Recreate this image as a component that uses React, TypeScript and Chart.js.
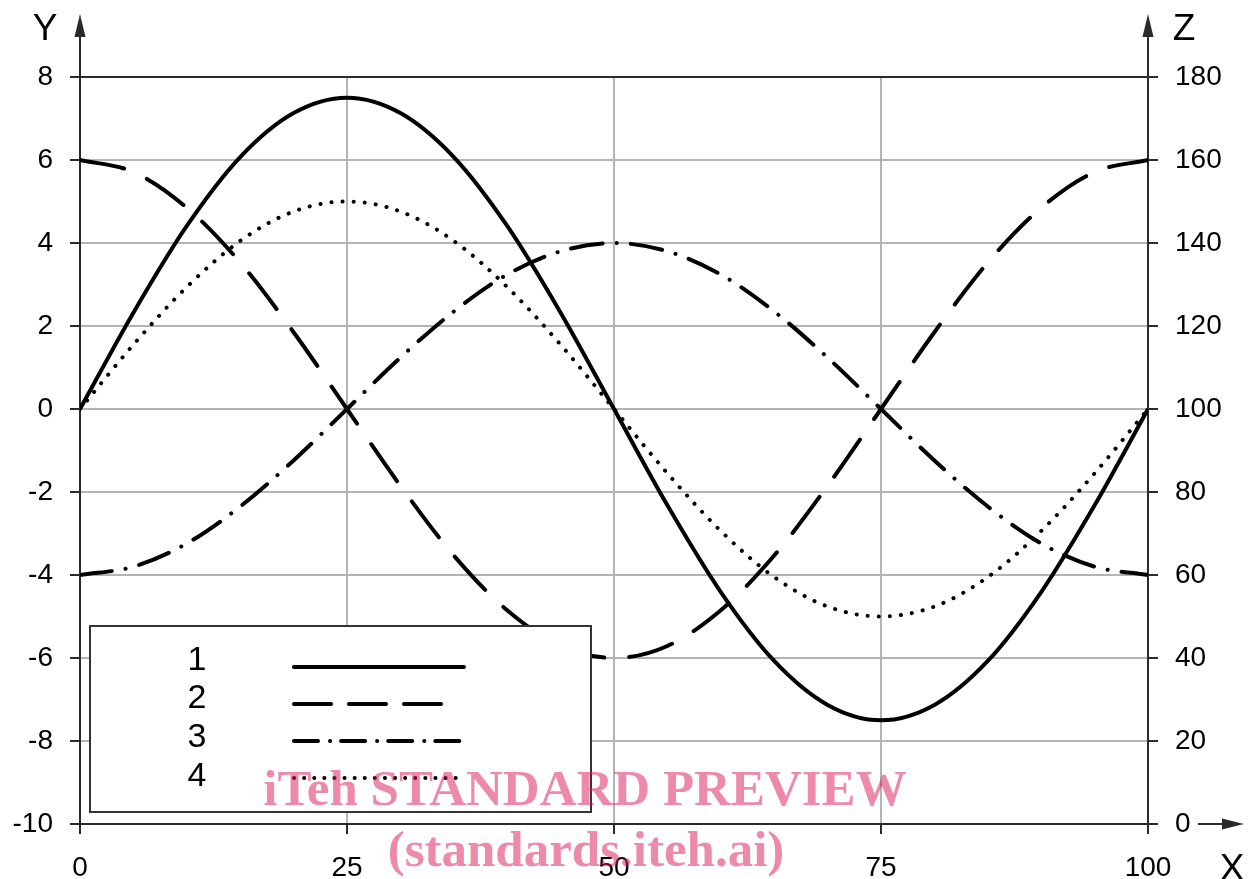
import React, { useEffect, useRef } from "react";
import { Chart, registerables } from "chart.js";

Chart.register(...registerables);

// ---------- data ----------
const xValues = [0, 5, 10, 15, 20, 25, 30, 35, 40, 45, 50, 55, 60, 65, 70, 75, 80, 85, 90, 95, 100];
const series1 = [0, 2.32, 4.41, 6.07, 7.13, 7.5, 7.13, 6.07, 4.41, 2.32, 0, -2.32, -4.41, -6.07, -7.13, -7.5, -7.13, -6.07, -4.41, -2.32, 0];
const series2 = [6, 5.71, 4.85, 3.53, 1.85, 0, -1.85, -3.53, -4.85, -5.71, -6, -5.71, -4.85, -3.53, -1.85, 0, 1.85, 3.53, 4.85, 5.71, 6];
const series3 = [-4, -3.8, -3.24, -2.35, -1.24, 0, 1.24, 2.35, 3.24, 3.8, 4, 3.8, 3.24, 2.35, 1.24, 0, -1.24, -2.35, -3.24, -3.8, -4];
const series4 = [0, 1.55, 2.94, 4.05, 4.76, 5, 4.76, 4.05, 2.94, 1.55, 0, -1.55, -2.94, -4.05, -4.76, -5, -4.76, -4.05, -2.94, -1.55, 0];
const seriesLabels = ["1", "2", "3", "4"];
const xRange = [0, 100];
const xStep = 25;
const yRange = [-10, 8];
const yStep = 2;
const zRange = [0, 180];
const zStep = 20;
const axisTitles = { y: "Y", z: "Z", x: "X" };
const watermarkLines = ["iTeh STANDARD PREVIEW", "(standards.iteh.ai)"];

// ---------- styles ----------
const DARK = "#2a2a2a";
const GRID = "#b4b4b4";
const TICK_FONT = { family: "'Liberation Sans', Arial, sans-serif", size: 28 };
const dashes: number[][] = [[], [45, 25], [32, 14, 0.1, 14], [0.1, 11]];
const legendDashes: number[][] = [[], [37, 18], [24, 12, 0.1, 11], [0.1, 10]];
const legendLineEnds = [170, 147, 170, 166];
const allSeries = [series1, series2, series3, series4];

const decorPlugin = {
  id: "decor",
  afterDatasetsDraw(chart: any) {
    const ctx = chart.ctx;
    const ca = chart.chartArea;
    // legend box
    const bx = ca.left + 10;
    const by = 626;
    const bw = 501;
    const bh = 186;
    ctx.save();
    ctx.fillStyle = "#fff";
    ctx.fillRect(bx, by, bw, bh);
    ctx.strokeStyle = "#333";
    ctx.lineWidth = 2;
    ctx.strokeRect(bx, by, bw, bh);
    const textYs = [660, 698, 737, 776];
    const lineYs = [667, 704, 741, 778];
    ctx.font = "34px 'Liberation Sans', Arial, sans-serif";
    ctx.fillStyle = "#000";
    ctx.textAlign = "center";
    ctx.textBaseline = "middle";
    chart.data.datasets.forEach((ds: any, i: number) => {
      ctx.fillText(ds.label, bx + 107, textYs[i] + 1);
      ctx.beginPath();
      ctx.setLineDash(legendDashes[i]);
      ctx.lineCap = "round";
      ctx.lineWidth = 4;
      ctx.strokeStyle = "#000";
      ctx.moveTo(bx + 204, lineYs[i]);
      ctx.lineTo(bx + 204 + legendLineEnds[i], lineYs[i]);
      ctx.stroke();
    });
    ctx.restore();
  },
  afterDraw(chart: any) {
    const ctx = chart.ctx;
    const ca = chart.chartArea;
    ctx.save();
    ctx.strokeStyle = DARK;
    ctx.fillStyle = DARK;
    ctx.lineWidth = 2;
    const upArrow = (x: number) => {
      ctx.beginPath();
      ctx.moveTo(x, ca.top);
      ctx.lineTo(x, 30);
      ctx.stroke();
      ctx.beginPath();
      ctx.moveTo(x, 14);
      ctx.lineTo(x - 5.5, 37);
      ctx.lineTo(x + 5.5, 37);
      ctx.closePath();
      ctx.fill();
    };
    upArrow(ca.left);
    upArrow(ca.right);
    // X arrow
    const ay = ca.bottom;
    ctx.beginPath();
    ctx.moveTo(ca.right + 50, ay);
    ctx.lineTo(ca.right + 80, ay);
    ctx.stroke();
    ctx.beginPath();
    ctx.moveTo(ca.right + 96, ay);
    ctx.lineTo(ca.right + 74, ay - 5.5);
    ctx.lineTo(ca.right + 74, ay + 5.5);
    ctx.closePath();
    ctx.fill();
    // axis titles
    ctx.fillStyle = "#000";
    ctx.font = "37px 'Liberation Sans', Arial, sans-serif";
    ctx.textAlign = "center";
    ctx.textBaseline = "alphabetic";
    ctx.fillText(axisTitles.y, ca.left - 35, 40);
    ctx.fillText(axisTitles.z, ca.right + 36, 40);
    ctx.fillText(axisTitles.x, ca.right + 84, 880);
    // watermark
    ctx.fillStyle = "rgba(220,30,90,0.52)";
    ctx.font = "bold 51px 'Liberation Serif', 'Times New Roman', serif";
    ctx.fillText(watermarkLines[0], 585, 805);
    ctx.fillText(watermarkLines[1], 586, 866);
    ctx.restore();
  },
};

export default function App() {
  const ref = useRef<HTMLCanvasElement | null>(null);
  useEffect(() => {
    if (!ref.current) return;
    const chart = new Chart(ref.current, {
      type: "line",
      data: {
        datasets: allSeries.map((s, i) => ({
          label: seriesLabels[i],
          data: xValues.map((x, j) => ({ x, y: s[j] })),
          borderColor: "#000",
          borderWidth: 4,
          borderDash: dashes[i],
          borderCapStyle: i === 0 ? "butt" : "round",
          pointRadius: 0,
          cubicInterpolationMode: "monotone",
          fill: false,
          yAxisID: "y",
        })),
      },
      options: {
        responsive: false,
        animation: false,
        devicePixelRatio: 1,
        layout: { padding: { top: 77, left: 0, right: 0, bottom: 0 } },
        plugins: { legend: { display: false }, tooltip: { enabled: false } },
        scales: {
          x: {
            type: "linear",
            position: "bottom",
            min: xRange[0],
            max: xRange[1],
            ticks: { stepSize: xStep, font: TICK_FONT, color: "#000", padding: 17, maxRotation: 0 },
            grid: {
              color: (c: any) => (c.tick && (c.tick.value === xRange[1] || c.tick.value === xRange[0]) ? DARK : GRID),
              tickColor: DARK,
              lineWidth: 2,
              tickLength: 10,
            },
            border: { color: DARK, width: 2 },
            afterFit: (s: any) => {
              s.height = 55;
            },
          },
          y: {
            type: "linear",
            position: "left",
            min: yRange[0],
            max: yRange[1],
            ticks: { stepSize: yStep, font: TICK_FONT, color: "#000", padding: 17 },
            grid: {
              color: (c: any) => (c.tick && c.tick.value === yRange[1] ? DARK : GRID),
              tickColor: DARK,
              lineWidth: 2,
              tickLength: 10,
            },
            border: { color: DARK, width: 2 },
            afterFit: (s: any) => {
              s.width = 80;
            },
          },
          y2: {
            type: "linear",
            position: "right",
            display: true,
            min: zRange[0],
            max: zRange[1],
            ticks: { stepSize: zStep, font: TICK_FONT, color: "#000", padding: 17 },
            grid: { drawOnChartArea: false, tickColor: DARK, lineWidth: 2, tickLength: 10 },
            border: { color: DARK, width: 2 },
            afterFit: (s: any) => {
              s.width = 100;
            },
          },
        },
      },
      plugins: [decorPlugin],
    } as any);
    return () => chart.destroy();
  }, []);
  return (
    <div style={{ position: "fixed", left: 0, top: 0, width: 1248, height: 879, background: "#fff" }}>
      <canvas ref={ref} width={1248} height={879} style={{ width: 1248, height: 879, display: "block" }} />
    </div>
  );
}
